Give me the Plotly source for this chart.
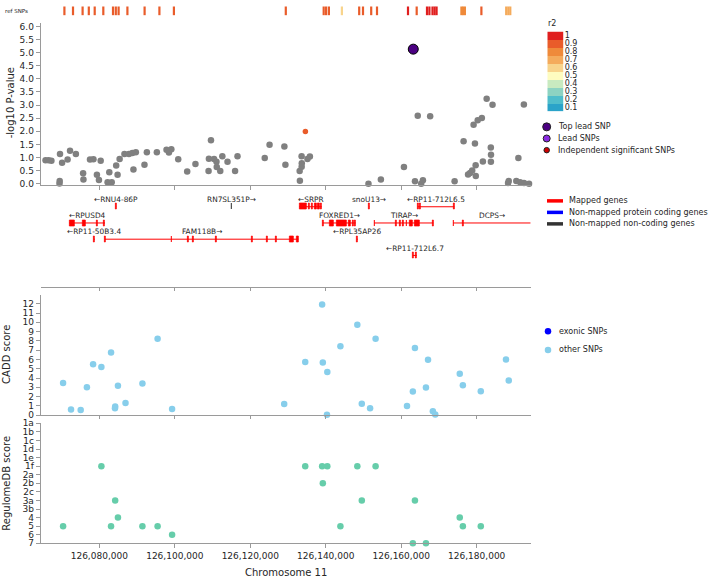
import plotly.graph_objects as go

W, H = 708, 583
FONT = "DejaVu Sans"

# ---- data ----
r2_levels = [0.1, 0.2, 0.3, 0.4, 0.5, 0.6, 0.7, 0.8, 0.9, 1.0]
r2_labels = ["0.1", "0.2", "0.3", "0.4", "0.5", "0.6", "0.7", "0.8", "0.9", "1"]
r2_colors = ["#2aa3c9", "#4fbdcb", "#8dd3c2", "#c8eac0", "#fefcc0",
             "#f8d48c", "#f4ab5c", "#ef8a3a", "#e95c2a", "#e01f1f"]

ref_pos = [126070752, 126073031, 126075575, 126077218, 126078781, 126081060,
           126083630, 126084372, 126085114, 126087446, 126092003, 126095925,
           126099767, 126129417, 126139459, 126140095, 126140837, 126144282,
           126148866, 126149873, 126152045, 126153582, 126161796, 126164101,
           126166831, 126167467, 126168288, 126168844, 126169374, 126175946,
           126176396, 126176873, 126181245, 126187816, 126188373, 126188903]
ref_r2 = [0.9, 0.9, 0.9, 0.9, 0.9, 0.9,
          0.9, 0.9, 0.9, 0.9, 0.9, 0.9,
          0.9, 0.9, 0.9, 0.9, 0.9, 0.6,
          0.9, 0.9, 0.9, 0.9, 1.0, 0.9,
          1.0, 1.0, 1.0, 1.0, 1.0, 0.8,
          0.8, 0.8, 0.9, 0.7, 0.7, 0.7]

gwas_pos = [126065754, 126066576, 126067307, 126069590, 126069498, 126069450,
            126070137, 126071599, 126072238, 126073790, 126075708, 126075799,
            126077534, 126078448, 126079361, 126079909, 126080365, 126082192,
            126082648, 126083288, 126084475, 126084840, 126085388, 126086666,
            126087854, 126088767, 126089680, 126089041, 126091963, 126092602,
            126095250, 126097807, 126098447, 126099086, 126100912, 126103287,
            126105478, 126109040, 126109588, 126108950, 126110410, 126111049,
            126111120, 126112053, 126112601, 126113971, 126115980, 126116619,
            126123834, 126125112, 126129039, 126129313, 126133148, 126133090,
            126133605, 126133650, 126133620, 126135157, 126135797, 126151321,
            126154608, 126160727, 126163649, 126164380, 126165293, 126165749,
            126167667, 126174151, 126176525, 126177712, 126178260, 126178808,
            126179174, 126179539, 126179721, 126179760, 126180269, 126181365,
            126181639, 126182644, 126183740, 126183790, 126183760, 126184196,
            126188306, 126188488, 126190497, 126191045, 126191502, 126192506,
            126192540, 126193876]
gwas_logp = [0.89, 0.89, 0.87, 1.13, 0.10, 0.01,
             0.80, 0.92, 1.26, 1.13, 0.40, 0.16,
             0.92, 0.93, 0.34, 0.14, 0.87, 0.05,
             0.44, 0.05, 0.69, 0.34, 0.94, 1.13,
             1.13, 1.17, 1.20, 0.54, 0.72, 1.20,
             1.20, 1.29, 1.19, 1.31, 0.93, 0.46,
             0.75, 0.95, 1.66, 0.48, 0.94, 0.84,
             0.64, 0.48, 1.05, 0.84, 0.48, 1.05,
             0.98, 1.48, 1.42, 0.72, 0.11, 0.48,
             1.05, 0.78, 0.65, 0.94, 1.04, 0.00,
             0.16, 0.64, 0.09, 2.59, 0.00, 0.13,
             2.57, 0.09, 1.62, 0.35, 0.41, 0.50,
             2.25, 1.53, 0.70, 0.29, 2.42, 2.50,
             0.85, 3.24, 1.38, 1.10, 0.84, 3.01,
             0.03, 0.10, 0.10, 0.98, 0.05, 3.02,
             0.03, 0.00]

ld_pos = [126134609]
ld_logp = [1.99]
ld_r2 = [0.9]

lead_pos = [126163193]
lead_logp = [5.13]

gene_names = ["RNU4-86P", "RN7SL351P", "SRPR", "snoU13", "RP11-712L6.5",
              "RPUSD4", "FOXRED1", "TIRAP", "DCPS",
              "RP11-50B3.4", "FAM118B", "RPL35AP26", "RP11-712L6.7"]
gene_strand = ["-", "+", "-", "+", "-", "-", "+", "+", "+", "-", "+", "-", "-"]
gene_row = [1, 1, 1, 1, 1, 2, 2, 2, 2, 3, 3, 3, 4]
gene_type = ["mapped", "noncoding", "mapped", "mapped", "mapped",
             "mapped", "mapped", "mapped", "mapped",
             "mapped", "mapped", "mapped", "mapped"]
gene_start = [126084380, 126115030, 126132994, 126151490, 126164366,
              126072051, 126139195, 126152867, 126173799,
              126078560, 126081510, 126148250, 126163042]
gene_end = [126084480, 126115130, 126138929, 126151590, 126174064,
            126081510, 126147938, 126168500, 126194300,
            126078800, 126132729, 126148480, 126164101]
gene_exons = [
    [(126084380, 126084480)],
    [(126115030, 126115130)],
    [(126132994, 126134955), (126135379, 126135829), (126136227, 126136625),
     (126137023, 126137500), (126137950, 126138350), (126138745, 126138929)],
    [(126151490, 126151590)],
    [(126164366, 126164525), (126164922, 126165055), (126173930, 126174064)],
    [(126072051, 126073561), (126075495, 126076396), (126079179, 126079444),
     (126081113, 126081510)],
    [(126139195, 126139407), (126141130, 126142004), (126142851, 126145555),
     (126145978, 126146614), (126147224, 126147489), (126147753, 126147938)],
    [(126152867, 126153000), (126158564, 126158724), (126159625, 126159785),
     (126160472, 126160632), (126161372, 126161532), (126162326, 126163042),
     (126163652, 126164790), (126168421, 126168500)],
    [(126173799, 126173985), (126176370, 126176530)],
    [(126078560, 126078800)],
    [(126081510, 126081775), (126099078, 126099264), (126103450, 126103715),
     (126104775, 126105040), (126110790, 126111055), (126120408, 126120673),
     (126124224, 126124489), (126126608, 126126873), (126130530, 126131405),
     (126132252, 126132729)],
    [(126148250, 126148480)],
    [(126163042, 126163200), (126163915, 126164101)],
]
gene_colors = {"mapped": "#ff0000", "coding": "#0000ff", "noncoding": "#333333"}

cadd_pos = [126070403, 126072505, 126075064, 126076710, 126078355, 126080548,
            126083108, 126084204, 126084150, 126084936, 126086946, 126091425,
            126095447, 126099285, 126128990, 126134566, 126139044, 126139227,
            126140415, 126140324, 126143889, 126148367, 126149555, 126151749,
            126153211, 126161529, 126163083, 126163631, 126166556, 126167104,
            126168384, 126169024, 126175513, 126176336, 126181088, 126187761,
            126188492]
cadd_score = [3.46, 0.60, 0.56, 3.00, 5.47, 5.19,
              6.74, 0.92, 0.74, 3.18, 1.31, 3.42,
              8.22, 0.67, 1.20, 5.72, 11.93, 5.68,
              4.66, 0.04, 7.41, 9.74, 1.24, 0.74,
              8.22, 0.99, 2.54, 7.24, 2.97, 5.97,
              0.42, 0.07, 4.45, 3.21, 2.58, 6.00,
              3.74]

regdb_levels = ["1a", "1b", "1c", "1d", "1e", "1f", "2a", "2b", "2c",
                "3a", "3b", "4", "5", "6", "7"]
regdb_pos = [126070403, 126080548, 126083108, 126084204, 126084936, 126091425,
             126095447, 126099285, 126134566, 126139044, 126139227, 126140415,
             126143889, 126148367, 126149555, 126153211, 126163083, 126163631,
             126166556, 126175513, 126176336, 126181088]
regdb_score = ["5", "1f", "5", "3a", "4", "5",
               "5", "6", "1f", "1f", "2b", "1f",
               "5", "1f", "3a", "1f", "7", "3a",
               "7", "4", "5", "5"]

x_ticks = [126080000, 126100000, 126120000, 126140000, 126160000, 126180000]
x_range = [126064470, 126194310]


# ---- layout helpers (pixel -> paper) ----
def ydom(top_px, bottom_px):
    return [1 - bottom_px / H, 1 - top_px / H]


XDOM = [40.7 / W, 530.7 / W]
AX = "#9a9a9a"
TXT = "#262626"

r2_color = {lv: c for lv, c in zip(r2_levels, r2_colors)}
n_r2 = len(r2_colors)
r2_scale = []
for k, c in enumerate(r2_colors):
    r2_scale.append([k / n_r2, c])
    r2_scale.append([(k + 1) / n_r2, c])

fig = go.Figure()

# ref SNP strip
fig.add_trace(go.Scatter(
    x=ref_pos, y=[0.5] * len(ref_pos), mode="markers", xaxis="x", yaxis="y",
    marker=dict(symbol="line-ns", size=7,
                line=dict(width=2.2, color=[r2_color[v] for v in ref_r2])),
    hoverinfo="x", showlegend=False))

# regional plot
fig.add_trace(go.Scatter(
    x=gwas_pos, y=gwas_logp, mode="markers", xaxis="x2", yaxis="y2",
    marker=dict(size=6.5, color="#808080"), cliponaxis=False, showlegend=False))
fig.add_trace(go.Scatter(
    x=ld_pos, y=ld_logp, mode="markers", xaxis="x2", yaxis="y2",
    marker=dict(size=5.5, color=[r2_color[v] for v in ld_r2]),
    cliponaxis=False, showlegend=False))
fig.add_trace(go.Scatter(
    x=lead_pos, y=lead_logp, mode="markers", xaxis="x2", yaxis="y2",
    marker=dict(size=10, color="#4b0082", line=dict(width=1, color="#000")),
    cliponaxis=False, showlegend=False))

# genes
for gtype, col in gene_colors.items():
    lx, ly, bx, bb, by = [], [], [], [], []
    for i, t in enumerate(gene_type):
        if t != gtype:
            continue
        lx += [gene_start[i], gene_end[i], None]
        ly += [gene_row[i], gene_row[i], None]
        for s, e in gene_exons[i]:
            bb.append(s)
            bx.append(e - s)
            by.append(gene_row[i])
    if not lx:
        continue
    fig.add_trace(go.Scatter(
        x=lx, y=ly, mode="lines", xaxis="x3", yaxis="y3",
        line=dict(color=col, width=1), hoverinfo="skip", showlegend=False))
    fig.add_trace(go.Bar(
        x=bx, base=bb, y=by, orientation="h", width=0.36, xaxis="x3", yaxis="y3",
        marker=dict(color=col, line=dict(color=col, width=0.7)),
        hoverinfo="skip", showlegend=False))

# CADD
fig.add_trace(go.Scatter(
    x=cadd_pos, y=cadd_score, mode="markers", xaxis="x4", yaxis="y4",
    marker=dict(size=6.5, color="#87ceeb"), cliponaxis=False, showlegend=False))

# RegulomeDB
fig.add_trace(go.Scatter(
    x=regdb_pos, y=regdb_score, mode="markers", xaxis="x5", yaxis="y5",
    marker=dict(size=6.5, color="#66cdaa"), cliponaxis=False, showlegend=False))

# r2 key
fig.add_trace(go.Heatmap(
    z=[[i] for i in range(n_r2)], x=[0], y=list(range(n_r2)),
    xaxis="x6", yaxis="y6", zmin=-0.5, zmax=n_r2 - 0.5,
    colorscale=r2_scale, showscale=False, hoverinfo="skip"))

# legend glyphs on a pixel-space overlay
key_marks = [
    (546.7, 124.0, 8, "#4b0082", 1),
    (546.7, 135.8, 7, "#8a2be2", 1),
    (546.7, 147.7, 5.5, "#cc0000", 1),
    (548.0, 332.0, 6.5, "#0000ff", 0),
    (548.0, 351.0, 6.5, "#87ceeb", 0),
]
for kx, ky, ks, kc, kw in key_marks:
    fig.add_trace(go.Scatter(
        x=[kx], y=[ky], mode="markers", xaxis="x7", yaxis="y7",
        marker=dict(size=ks, color=kc, line=dict(width=kw, color="#222")),
        hoverinfo="skip", showlegend=False))
for ky, kc in [(199.3, gene_colors["mapped"]), (211.0, gene_colors["coding"]),
               (222.7, gene_colors["noncoding"])]:
    fig.add_trace(go.Scatter(
        x=[547, 563], y=[ky, ky], mode="lines", xaxis="x7", yaxis="y7",
        line=dict(color=kc, width=3.5), hoverinfo="skip", showlegend=False))

annotations = []
for i, name in enumerate(gene_names):
    label = ("\u2190" + name) if gene_strand[i] == "-" else (name + "\u2192")
    annotations.append(dict(
        x=(gene_start[i] + gene_end[i]) / 2, y=gene_row[i] - 0.45,
        xref="x3", yref="y3", text=label, showarrow=False,
        font=dict(size=7.4, color=TXT), xanchor="center", yanchor="middle"))


def px_text(x, y, text, size=8, anchor="left", angle=0):
    annotations.append(dict(
        x=x, y=y, xref="x7", yref="y7", text=text, showarrow=False,
        font=dict(size=size, color=TXT), xanchor=anchor, yanchor="middle",
        textangle=angle))


px_text(3, 6, "ref SNPs", size=5.5)
px_text(552, 19, "r2", anchor="center")
px_text(556, 124.0, "Top lead SNP")
px_text(556, 135.8, "Lead SNPs")
px_text(556, 147.7, "Independent significant SNPs")
px_text(567, 199.3, "Mapped genes")
px_text(567, 211.0, "Non-mapped protein coding genes")
px_text(567, 222.7, "Non-mapped non-coding genes")
px_text(557, 332, "exonic SNPs")
px_text(557, 351, "other SNPs")
px_text(10, 100, "-log10 P-value", size=10, anchor="center", angle=-90)
px_text(7, 356, "CADD score", size=10, anchor="center", angle=-90)
px_text(7, 487, "RegulomeDB score", size=10, anchor="center", angle=-90)
px_text(285.7, 577.7, "Chromosome 11", size=10, anchor="center")

xbase = dict(domain=XDOM, range=x_range, showgrid=False, zeroline=False,
             tickvals=x_ticks, showticklabels=False, linecolor=AX, tickcolor=AX,
             ticklen=4, ticks="outside", showline=True)
ybase = dict(showgrid=False, zeroline=False, linecolor=AX, tickcolor=AX,
             ticklen=4, ticks="outside", showline=True,
             tickfont=dict(size=9, color=TXT))

fig.update_layout(
    width=W, height=H, autosize=False,
    margin=dict(l=0, r=0, t=0, b=0),
    paper_bgcolor="white", plot_bgcolor="rgba(0,0,0,0)",
    font=dict(family=FONT, size=9, color=TXT),
    barmode="overlay", bargap=0, hovermode="closest",
    xaxis=dict(xbase, anchor="y", showline=False, ticks=""),
    yaxis=dict(domain=ydom(1.5, 10.5), range=[0, 1], visible=False, anchor="x"),
    xaxis2=dict(xbase, anchor="y2"),
    yaxis2=dict(ybase, domain=ydom(18.3, 183.5), range=[-0.064, 6.128],
                tickvals=[k * 0.5 for k in range(13)], tickformat=".1f", anchor="x2"),
    xaxis3=dict(xbase, anchor="y3", ticklen=3),
    yaxis3=dict(domain=ydom(183.5, 287.3), range=[5.97, -0.32], visible=False,
                anchor="x3"),
    xaxis4=dict(xbase, anchor="y4", ticklen=3),
    yaxis4=dict(ybase, domain=ydom(295, 417.3), range=[0, 12.95], dtick=1,
                anchor="x4"),
    xaxis5=dict(xbase, anchor="y5", showticklabels=True, tickformat=",d",
                tickfont=dict(size=9, color=TXT)),
    yaxis5=dict(ybase, domain=ydom(425.6, 547.7), type="category",
                categoryorder="array", categoryarray=regdb_levels,
                tickmode="array", tickvals=regdb_levels, ticktext=regdb_levels,
                range=[14, 0], anchor="x5"),
    xaxis6=dict(domain=[547.3 / W, 563.7 / W], visible=False, anchor="y6"),
    yaxis6=dict(domain=ydom(27, 108), range=[-0.5, 9.5], side="right", anchor="x6",
                tickvals=list(range(n_r2)), ticktext=r2_labels,
                ticks="", showline=False, showgrid=False, zeroline=False,
                tickfont=dict(size=8, color=TXT)),
    xaxis7=dict(domain=[0, 1], range=[0, W], visible=False, anchor="y7"),
    yaxis7=dict(domain=[0, 1], range=[H, 0], visible=False, anchor="x7"),
    annotations=annotations,
)

# the page's default 8px body margin would shift the whole figure
fig.write_html("out.html",
               config={"displayModeBar": False},
               post_script="document.body.style.margin='0';"
                           "document.body.style.overflow='hidden';")
